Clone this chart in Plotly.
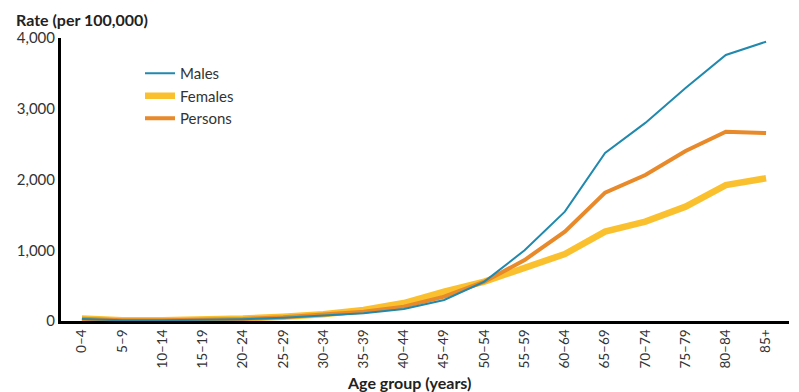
import plotly.graph_objects as go

age_groups = ["0–4", "5–9", "10–14", "15–19", "20–24", "25–29", "30–34", "35–39",
              "40–44", "45–49", "50–54", "55–59", "60–64", "65–69", "70–74", "75–79",
              "80–84", "85+"]
males = [30, 10, 10, 15, 25, 45, 75, 110, 170, 297, 556, 1000, 1545, 2375, 2800, 3293, 3760, 3948]
females = [35, 12, 12, 20, 35, 60, 95, 155, 254, 415, 556, 750, 947, 1263, 1404, 1616, 1922, 2017]
persons = [32, 11, 11, 18, 30, 52, 85, 132, 203, 344, 556, 862, 1263, 1814, 2064, 2403, 2676, 2657]

# the page body has an 8px default margin; work in page pixels and shift
OFF = 8
W, H = 799 - OFF, 392 - OFF
L, T = 61 - OFF, 38 - OFF
plot_right, plot_bottom = 789 - OFF, 321 - OFF
R, B = W - plot_right, H - plot_bottom
pw, ph = W - L - R, H - T - B


def px_x(x):
    return (x - OFF - L) / pw


def px_y(y):
    return (plot_bottom - (y - OFF)) / ph


fig = go.Figure()
fig.add_trace(go.Scatter(x=age_groups, y=females, name="Females", mode="lines",
                         line=dict(color="#fbc02d", width=6.5), legendrank=2))
fig.add_trace(go.Scatter(x=age_groups, y=persons, name="Persons", mode="lines",
                         line=dict(color="#e8892a", width=4), legendrank=3))
fig.add_trace(go.Scatter(x=age_groups, y=males, name="Males", mode="lines",
                         line=dict(color="#2089ad", width=2), legendrank=1))

font_family = "Lato, Open Sans, sans-serif"
fig.update_layout(
    width=W, height=H,
    margin=dict(l=L, r=R, t=T, b=B, autoexpand=False),
    paper_bgcolor="white", plot_bgcolor="white",
    font=dict(family=font_family, size=15, color="#333333"),
    showlegend=True,
    legend=dict(x=px_x(140), y=px_y(57), xanchor="left", yanchor="top",
                font=dict(size=15, color="#333333"),
                itemwidth=30, bgcolor="rgba(0,0,0,0)"),
    xaxis=dict(type="category", range=[-0.52, 17.57], showgrid=False, automargin=False,
               showline=True, linecolor="black", linewidth=3,
               tickangle=-90, ticks="", zeroline=False,
               tickfont=dict(size=13.5, color="#333333")),
    yaxis=dict(range=[0, 4000], showgrid=False, showline=True, linecolor="black",
               automargin=False, linewidth=3, tickvals=[0, 1000, 2000, 3000, 4000],
               tickformat=",", ticks="", zeroline=False,
               tickfont=dict(size=15, color="#333333")),
    annotations=[
        dict(text="<b>Rate (per 100,000)</b>", xref="paper", yref="paper",
             x=px_x(14), y=px_y(20), xanchor="left",
             yanchor="middle", showarrow=False,
             font=dict(size=16, color="#222222")),
        dict(text="<b>Age group (years)</b>", xref="paper", yref="paper",
             x=px_x(409), y=px_y(382), xanchor="center",
             yanchor="middle", showarrow=False,
             font=dict(size=16, color="#222222")),
    ],
)

fig.write_html("out.html")
